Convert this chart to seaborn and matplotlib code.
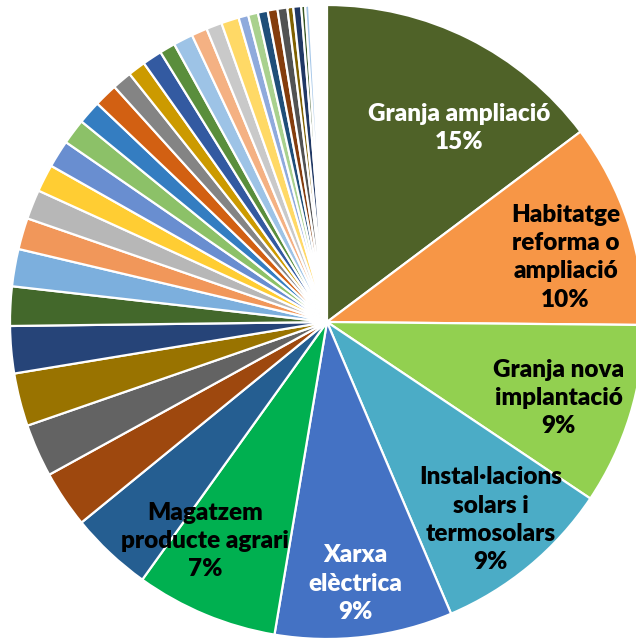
import matplotlib
matplotlib.use("Agg")
import matplotlib.pyplot as plt
import seaborn as sns
import numpy as np
import pandas as pd

# Dades del gràfic (percentatges llegits del pastís)
categories = [
    "Granja ampliació",
    "Habitatge\nreforma o\nampliació",
    "Granja nova\nimplantació",
    "Instal·lacions\nsolars i\ntermosolars",
    "Xarxa\nelèctrica",
    "Magatzem\nproducte agrari",
] + [""] * 31
values = [14.75, 10.4, 9.25, 9.2, 9.05, 7.25, 4.2, 2.9, 2.7, 2.7, 2.4, 2.0,
          1.9, 1.6, 1.5, 1.4, 1.4, 1.3, 1.2, 1.2, 1.0, 0.9, 1.0, 0.8,
          1.0, 0.8, 0.8, 0.9, 0.5, 0.5, 0.5, 0.5, 0.5, 0.3, 0.4, 0.2, 0.2]

colors = ["#4F6228", "#F79646", "#92D050", "#4BACC6", "#4472C4", "#00B050",
          "#255E91", "#9E480E", "#636363", "#997300", "#264478", "#43682B",
          "#7CAFDD", "#F1975A", "#B7B7B7", "#FFCD33", "#698ED0", "#8CC168",
          "#347DC1", "#D26012", "#848484", "#CC9A00", "#335AA1", "#5A8E3C",
          "#9DC3E6", "#F4B183", "#C9C9C9", "#FFD966", "#8FAADC", "#A9D18E",
          "#1F4E79", "#843C0C", "#525252", "#7F6000", "#203864", "#375623",
          "#A4C6E8"]

df = pd.DataFrame({"categoria": categories, "pct": values, "color": colors})

sns.set_theme(style="white")
plt.rcParams['font.family'] = ['Lato', 'DejaVu Sans']

fig = plt.figure(figsize=(6.36, 6.39), dpi=100)
# eix quadrat de 634 px, centre del pastís a (327, 322) px
ax = fig.add_axes([10 / 636, 0, 634 / 636, 634 / 639])

wedges, _ = ax.pie(df["pct"] / 100, colors=df["color"], startangle=90,
                   counterclock=False, normalize=False,
                   wedgeprops=dict(edgecolor="white", linewidth=1.6))
ax.set_xlim(-1, 1)
ax.set_ylim(-1, 1)
ax.set_aspect("equal")
ax.axis("off")

# posició de les etiquetes (radi i petit desplaçament d'angle)
label_r = [0.74, 0.78, 0.77, 0.81, 0.83, 0.79]
label_shift = [7.8, 3.0, 1.0, 0.0, 0.6, 6.5]
text_col = ["white", "black", "black", "black", "white", "black"]

for i in range(6):
    w = wedges[i]
    ang = np.deg2rad((w.theta1 + w.theta2) / 2 - label_shift[i])
    x = label_r[i] * np.cos(ang)
    y = label_r[i] * np.sin(ang)
    txt = f"{df['categoria'][i]}\n{round(df['pct'][i])}%"
    ax.text(x, y, txt, ha="center", va="center", fontsize=17.5,
            fontweight="heavy", color=text_col[i], linespacing=1.35)

fig.savefig("out.png", dpi=100)
